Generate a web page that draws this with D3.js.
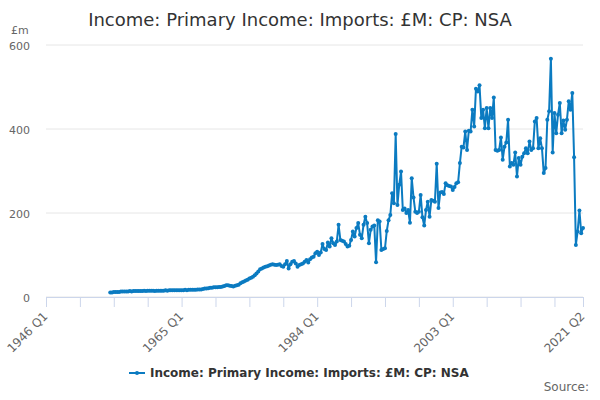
<!DOCTYPE html>
<html>
<head>
<meta charset="utf-8">
<script src="https://cdn.jsdelivr.net/npm/d3@7"></script>
<style>
  body { margin: 0; background: #fff; }
  #chart { width: 600px; height: 400px; }
  text { font-family: "DejaVu Sans", sans-serif; }
</style>
</head>
<body>
<div id="chart"></div>
<script>
// Chart text
const title = "Income: Primary Income: Imports: £M: CP: NSA";
const seriesName = "Income: Primary Income: Imports: £M: CP: NSA";
const unitLabel = "£m";
const sourceText = "Source:";

// Category axis runs 1946 Q1 .. 2021 Q2, series starts 1955 Q1
const firstYear = 1946;
const lastYear = 2021;
const lastQuarter = 2;
const seriesStart = "1955 Q1";
const labelTicks = ["1946 Q1", "1965 Q1", "1984 Q1", "2003 Q1", "2021 Q2"];
const yTicks = [0, 200, 400, 600];

// Quarterly values (£m), 1955 Q1 onwards, four per year
const values = [
  11, 11, 12, 12,   12, 12, 13, 13,   13, 13, 13, 14,   13, 14, 14, 14,
  14, 14, 14, 15,   14, 15, 15, 15,   15, 14, 15, 15,   15, 15, 15, 16,
  15, 16, 16, 16,   16, 16, 16, 16,   16, 16, 17, 16,   17, 17, 17, 17,
  17, 18, 18, 18,   19, 20, 20, 21,   22, 22, 23, 23,   23, 24, 24, 25,
  26, 28, 28, 27,   26, 25, 27, 28,   29, 33, 35, 37,   39, 41, 44, 46,
  48, 52, 56, 61,   66, 68, 70, 72,   73, 75, 77, 78,   77, 76, 77, 78,
  74, 72, 78, 86,   68, 78, 84, 86,   80, 72, 76, 78,   80, 84, 88, 82,
  90, 94, 96, 104,  108, 100, 106, 126,  114, 112, 130, 120,  140, 128, 124, 132,
  172, 136, 134, 132,  126, 120, 122, 136,  156, 144, 164, 176,  148, 140, 172, 191,
  176, 128, 160, 168,  170, 83, 183, 180,  112, 114, 116, 157,  183, 195, 247, 223,
  388, 219, 267, 299,  207, 211, 200, 207,  177, 283, 237, 203,  200, 203, 243, 190,
  170, 207, 227, 191,  231, 229, 227, 317,  212, 249, 250, 245,  271, 266, 264, 263,
  255, 262, 271, 273,  319, 358, 356, 394,  350, 396, 394, 446,  406, 496, 489, 504,
  426, 446, 402, 450,  402, 450, 426, 475,  350, 348, 350, 380,  327, 358, 368, 422,
  311, 319, 315, 344,  287, 331, 315, 334,  342, 354, 342, 370,  350, 354, 418, 426,
  354, 378, 354, 295,  307, 422, 442, 567,  344, 438, 390, 434,  462, 390, 420, 398,
  422, 466, 446, 486,  333, 124, 156, 206,  152, 164
];

// Build the category list
const categories = [];
for (let y = firstYear; y <= lastYear; y++) {
  for (let q = 1; q <= 4; q++) {
    if (y === lastYear && q > lastQuarter) break;
    categories.push(`${y} Q${q}`);
  }
}
const startIdx = categories.indexOf(seriesStart);
const data = values.map((v, i) => ({ cat: categories[startIdx + i], value: v }));

// Dimensions
const W = 600, H = 400;
const margin = { top: 45, right: 17, bottom: 103, left: 46 };
const width = W - margin.left - margin.right;
const height = H - margin.top - margin.bottom;
const lineColor = "#0b7bc1";

const svg = d3.select("#chart").append("svg")
  .attr("width", W)
  .attr("height", H);

// Title
svg.append("text")
  .attr("x", W / 2)
  .attr("y", 26)
  .attr("text-anchor", "middle")
  .attr("font-size", 18)
  .attr("fill", "#333")
  .text(title);

const g = svg.append("g").attr("transform", `translate(${margin.left},${margin.top})`);

const x = d3.scalePoint().domain(categories).range([0, width]);
const y = d3.scaleLinear().domain([0, 600]).range([height, 0]);

// Gridlines
g.append("g")
  .selectAll("line")
  .data(yTicks)
  .join("line")
  .attr("x1", 0)
  .attr("x2", width)
  .attr("y1", d => y(d))
  .attr("y2", d => y(d))
  .attr("stroke", "#e6e6e6")
  .attr("stroke-width", 1);

// Y axis labels
g.append("g")
  .selectAll("text")
  .data(yTicks)
  .join("text")
  .attr("x", -16)
  .attr("y", d => y(d) + 5)
  .attr("text-anchor", "end")
  .attr("font-size", 11)
  .attr("fill", "#666")
  .text(d => d);

svg.append("text")
  .attr("x", 11)
  .attr("y", 34)
  .attr("font-size", 11)
  .attr("fill", "#666")
  .text(unitLabel);

// X axis: tick every 19 quarters plus the final category
const tickCats = categories.filter((c, i) => i % 19 === 0 && i < categories.length - 10);
tickCats.push(categories[categories.length - 1]);

const xAxis = d3.axisBottom(x)
  .tickValues(tickCats)
  .tickSize(10)
  .tickFormat(d => labelTicks.includes(d) ? d : "");

const xg = g.append("g")
  .attr("transform", `translate(0,${height})`)
  .call(xAxis);
xg.select(".domain").attr("stroke", "#ccd6eb");
xg.selectAll(".tick line").attr("stroke", "#ccd6eb");
xg.selectAll(".tick text")
  .attr("font-size", 12)
  .attr("fill", "#666")
  .attr("text-anchor", "end")
  .attr("x", 0)
  .attr("y", 0)
  .attr("dy", 0)
  .attr("transform", "translate(2,20) rotate(-45)");

// Series line
const line = d3.line()
  .x(d => x(d.cat))
  .y(d => y(d.value));

g.append("path")
  .datum(data)
  .attr("fill", "none")
  .attr("stroke", lineColor)
  .attr("stroke-width", 2)
  .attr("stroke-linejoin", "round")
  .attr("d", line);

g.append("g")
  .selectAll("circle")
  .data(data)
  .join("circle")
  .attr("cx", d => x(d.cat))
  .attr("cy", d => y(d.value))
  .attr("r", 2)
  .attr("fill", lineColor);

// Legend
const legend = svg.append("g").attr("transform", "translate(129,373)");
legend.append("line")
  .attr("x1", 0).attr("x2", 16)
  .attr("y1", 0).attr("y2", 0)
  .attr("stroke", lineColor)
  .attr("stroke-width", 2);
legend.append("circle")
  .attr("cx", 8).attr("cy", 0).attr("r", 2)
  .attr("fill", lineColor);
legend.append("text")
  .attr("x", 21)
  .attr("y", 4)
  .attr("font-size", 12)
  .attr("font-weight", "bold")
  .attr("fill", "#333")
  .text(seriesName);

// Source
svg.append("text")
  .attr("x", 589)
  .attr("y", 391)
  .attr("text-anchor", "end")
  .attr("font-size", 12)
  .attr("fill", "#666")
  .text(sourceText);
</script>
</body>
</html>
